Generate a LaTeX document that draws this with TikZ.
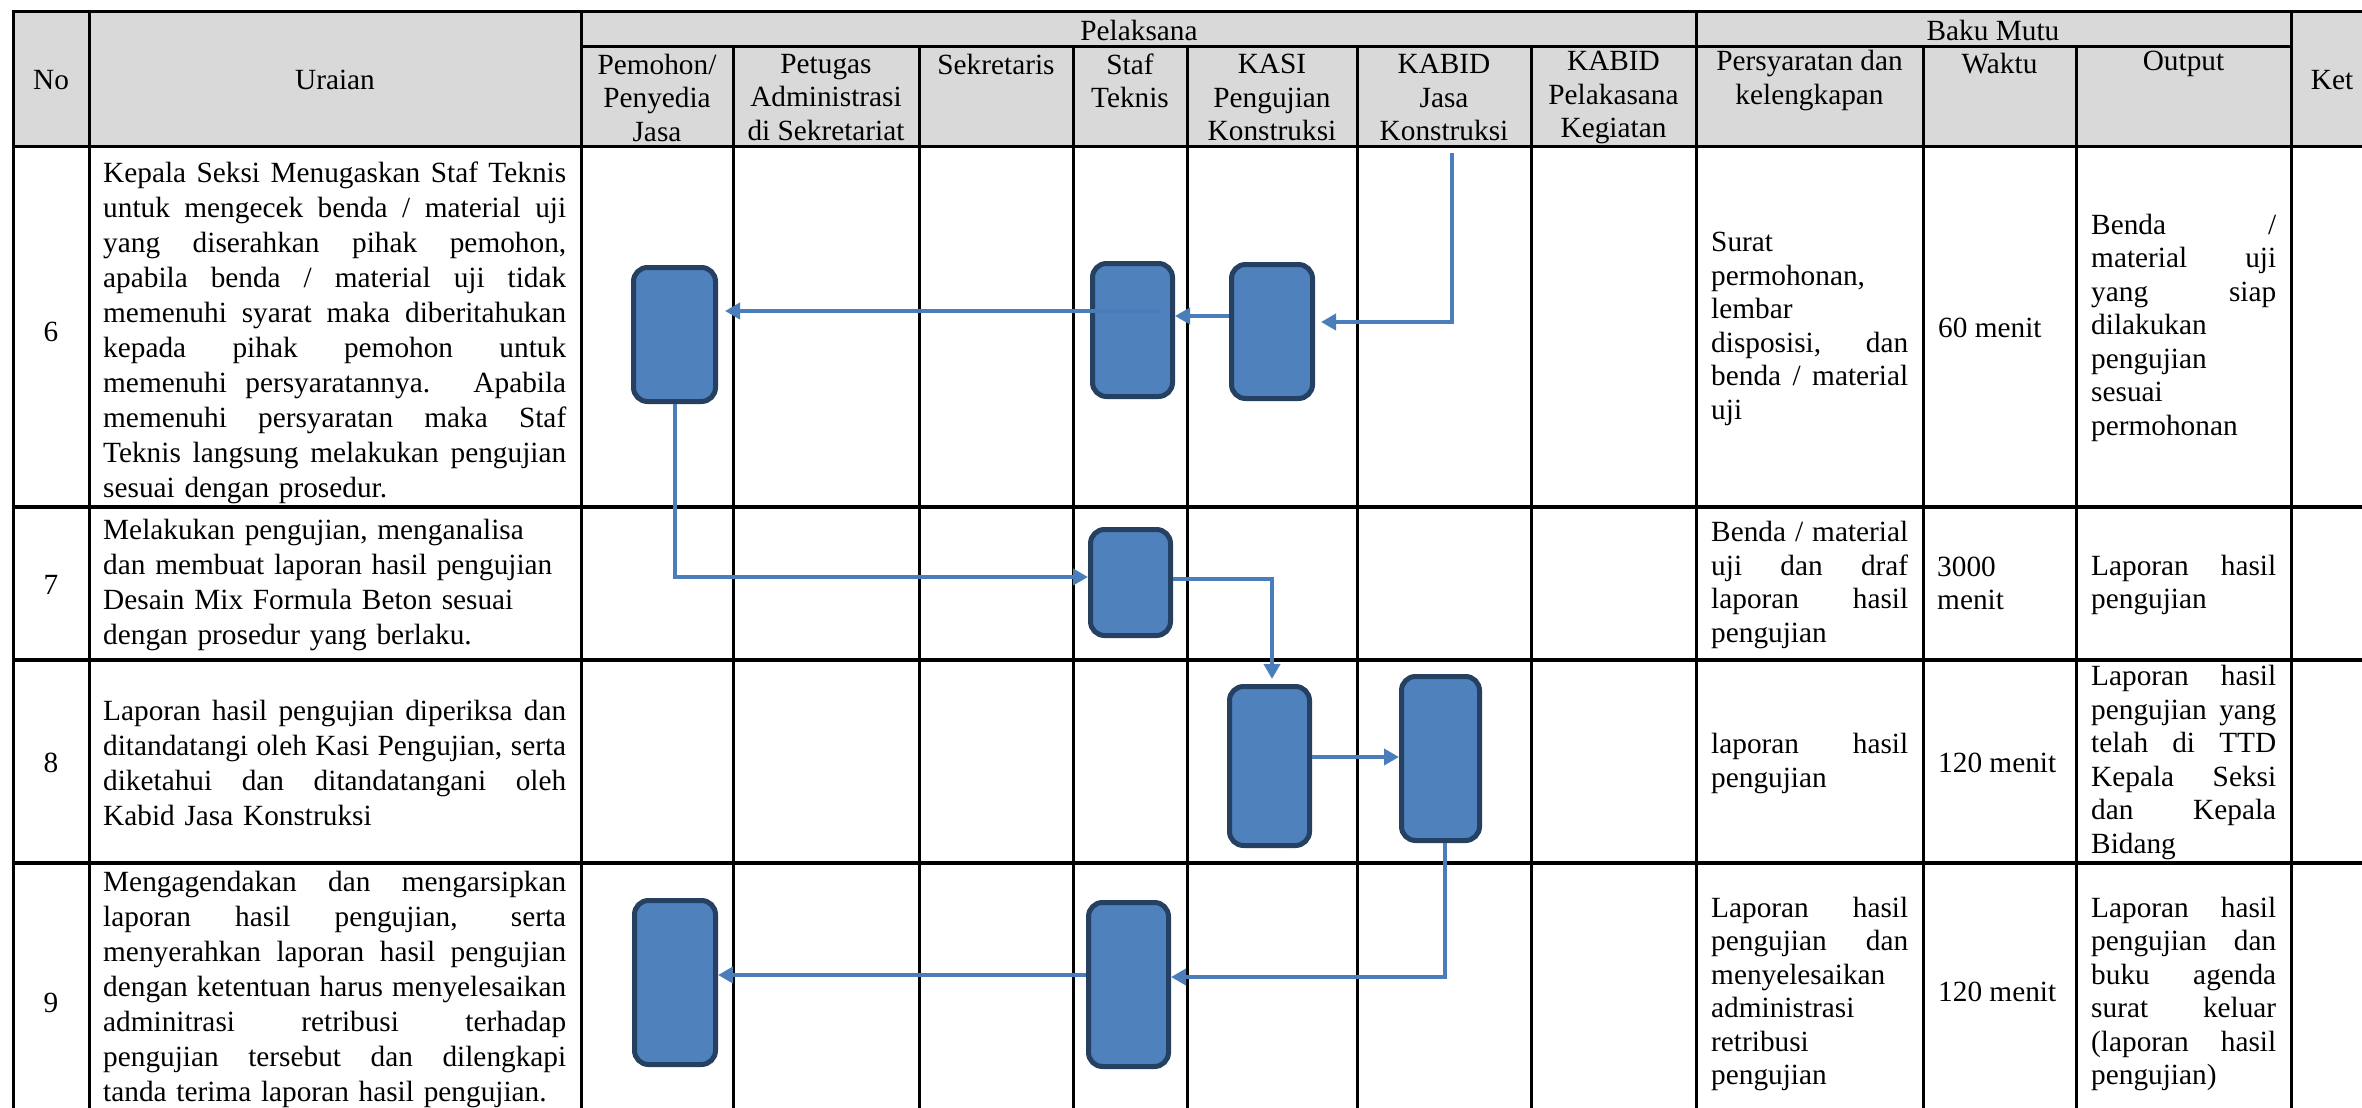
\documentclass[tikz,border=0pt]{standalone}
\usepackage{fontspec}
\setmainfont{Liberation Serif}
\usetikzlibrary{arrows.meta}
\definecolor{hdr}{RGB}{217,217,217}
\definecolor{bfill}{RGB}{79,129,189}
\definecolor{bline}{RGB}{37,64,97}
\definecolor{acol}{RGB}{74,126,187}
\newcommand\fsz{\fontsize{29.3}{33.5}\selectfont}
\newcommand\fsu{\fontsize{29.3}{35}\selectfont}
\newcommand\JU[1]{\makebox[463pt][s]{\spaceskip=0pt\xspaceskip=0pt #1}}
\newcommand\JP[1]{\makebox[197pt][s]{\spaceskip=0pt\xspaceskip=0pt #1}}
\newcommand\JO[1]{\makebox[185pt][s]{\spaceskip=0pt\xspaceskip=0pt #1}}
\begin{document}
\begin{tikzpicture}[x=1pt,y=-1pt,
  tcol/.style={line width=3pt,black},
  trow/.style={line width=3.5pt,black},
  cell/.style={inner sep=0pt,font=\fsz,align=center},
  para/.style={inner sep=0pt,font=\fsz,align=left,anchor=west},
  upara/.style={inner sep=0pt,font=\fsu,align=left,anchor=west,text width=463pt},
  pbox/.style={draw=bline,fill=bfill,line width=5pt,rounded corners=14pt,inner sep=0pt},
  arr/.style={draw=acol,line width=4pt,-{Triangle[length=15pt,width=16pt]}}]

\useasboundingbox (0,0) rectangle (2362,1108);
\fill[white] (0,0) rectangle (2362,1108);
\fill[hdr] (13.5,11.7) rectangle (2362,146.7);

% table grid
\foreach \x in {13.5,89,581.5,1696,2291} \draw[tcol] (\x,11.7) -- (\x,1108);
\foreach \x in {733,919,1073,1187,1357,1531,1923,2076} \draw[tcol] (\x,46.7) -- (\x,1108);
\draw[trow] (12,11.7) -- (2362,11.7);
\draw[trow] (580,46.7) -- (2292.5,46.7);
\foreach \y in {146.7,507,660,863} \draw[trow] (12,\y) -- (2362,\y);

% header
\node[cell] (hno) at (51,80) {No};
\node[cell] (hur) at (335,80) {Uraian};
\node[cell] (hket) at (2332,80) {Ket};
\node[cell] (hpel) at (1139,30) {Pelaksana};
\node[cell] (hbm) at (1993,30) {Baku Mutu};
\node[cell] (hpem) at (657,97.5) {Pemohon/\\Penyedia\\Jasa};
\node[cell] (hpet) at (826,97.5) {Petugas\\Administrasi\\di Sekretariat};
\node[cell] (hsek) at (996,64) {Sekretaris};
\node[cell] (hstf) at (1130,80.7) {Staf\\Teknis};
\node[cell] (hkasi) at (1272,97.5) {KASI\\Pengujian\\Konstruksi};
\node[cell] (hkbj) at (1444,97.5) {KABID\\Jasa\\Konstruksi};
\node[cell] (hkbp) at (1613.5,97.5) {KABID\\Pelakasana\\Kegiatan};
\node[cell] (hsyr) at (1809.5,80.7) {Persyaratan dan\\kelengkapan};
\node[cell] (hwkt) at (1999.5,64) {Waktu};
\node[cell] (hout) at (2183.5,64) {Output};

% numbers
\node[cell] (n6) at (51,332) {6};
\node[cell] (n7) at (51,585) {7};
\node[cell] (n8) at (51,763) {8};
\node[cell] (n9) at (51,1003) {9};

% uraian
\node[upara] (u6) at (103,332.5) {\JU{Kepala Seksi Menugaskan Staf Teknis}\\
\JU{untuk mengecek benda / material uji}\\
\JU{yang diserahkan pihak pemohon,}\\
\JU{apabila benda / material uji tidak}\\
\JU{memenuhi syarat maka diberitahukan}\\
\JU{kepada pihak pemohon untuk}\\
\JU{memenuhi persyaratannya. Apabila}\\
\JU{memenuhi persyaratan maka Staf}\\
\JU{Teknis langsung melakukan pengujian}\\
sesuai dengan prosedur.};
\node[upara] (u7) at (103,585) {Melakukan pengujian, menganalisa\\
dan membuat laporan hasil pengujian\\
Desain Mix Formula Beton sesuai\\
dengan prosedur yang berlaku.};
\node[upara] (u8) at (103,763) {\JU{Laporan hasil pengujian diperiksa dan}\\
\JU{ditandatangi oleh Kasi Pengujian, serta}\\
\JU{diketahui dan ditandatangani oleh}\\
Kabid Jasa Konstruksi};
\node[upara] (u9) at (103,989) {\JU{Mengagendakan dan mengarsipkan}\\
\JU{laporan hasil pengujian, serta}\\
\JU{menyerahkan laporan hasil pengujian}\\
\JU{dengan ketentuan harus menyelesaikan}\\
\JU{adminitrasi retribusi terhadap}\\
\JU{pengujian tersebut dan dilengkapi}\\
tanda terima laporan hasil pengujian.};

% persyaratan
\node[para] (p6) at (1711,329) {Surat\\permohonan,\\lembar\\\JP{disposisi, dan}\\\JP{benda / material}\\uji};
\node[para] (p7) at (1711,585) {\JP{Benda / material}\\\JP{uji dan draf}\\\JP{laporan hasil}\\pengujian};
\node[para] (p8) at (1711,763.5) {\JP{laporan hasil}\\pengujian};
\node[para] (p9) at (1711,994) {\JP{Laporan hasil}\\\JP{pengujian dan}\\menyelesaikan\\administrasi\\retribusi\\pengujian};

% waktu
\node[para] (w6) at (1938,328) {60 menit};
\node[para] (w7) at (1937,583.5) {3000\\menit};
\node[para] (w8) at (1938,763) {120 menit};
\node[para] (w9) at (1938,992) {120 menit};

% output
\node[para] (o6) at (2091,327.5) {\JO{Benda /}\\\JO{material uji}\\\JO{yang siap}\\dilakukan\\pengujian\\sesuai\\permohonan};
\node[para] (o7) at (2091,585) {\JO{Laporan hasil}\\pengujian};
\node[para] (o8) at (2091,762.5) {\JO{Laporan hasil}\\\JO{pengujian yang}\\\JO{telah di TTD}\\\JO{Kepala Seksi}\\\JO{dan Kepala}\\Bidang};
\node[para] (o9) at (2091,994) {\JO{Laporan hasil}\\\JO{pengujian dan}\\\JO{buku agenda}\\\JO{surat keluar}\\\JO{(laporan hasil}\\pengujian)};

% process boxes
\node[pbox,minimum width=82pt,minimum height=134pt] (B6a) at (674.5,334.5) {};
\node[pbox,minimum width=80pt,minimum height=133pt] (B6b) at (1132.5,330) {};
\node[pbox,minimum width=81pt,minimum height=134pt] (B6c) at (1272,331.5) {};
\node[pbox,minimum width=80pt,minimum height=106pt] (B7) at (1130.5,582.5) {};
\node[pbox,minimum width=80pt,minimum height=159pt] (B8a) at (1269.5,766) {};
\node[pbox,minimum width=78pt,minimum height=164pt] (B8b) at (1440.5,758.5) {};
\node[pbox,minimum width=81pt,minimum height=164pt] (B9a) at (675,982.5) {};
\node[pbox,minimum width=80pt,minimum height=164pt] (B9b) at (1128.5,984.5) {};

% connectors
\coordinate (k0) at (1452,153);
\draw[arr,shorten >=6pt] (k0) |- ([yshift=9.5pt]B6c.east);
\coordinate (a2) at ([yshift=15.5pt]B6c.west);
\draw[arr] (a2) -- (a2 -| B6b.east);
\coordinate (a3) at ([xshift=-15pt,yshift=19pt]B6b.east);
\draw[arr,shorten >=7pt] (a3) -- (a3 -| B6a.east);
\coordinate (a4) at ([yshift=5.5pt]B7.west);
\draw[arr] (B6a.south) |- (a4);
\coordinate (a5) at ([yshift=3.5pt]B7.east);
\draw[arr,shorten >=5pt] (a5) -| ([xshift=2.5pt]B8a.north);
\coordinate (a6) at ([yshift=9pt]B8a.east);
\draw[arr] (a6) -- (a6 -| B8b.west);
\draw[arr] ([xshift=4pt]B8b.south) |- ([yshift=7.5pt]B9b.east);
\coordinate (a8) at ([yshift=9.5pt]B9b.west);
\draw[arr] (a8) -- (a8 -| B9a.east);
\end{tikzpicture}
\end{document}
